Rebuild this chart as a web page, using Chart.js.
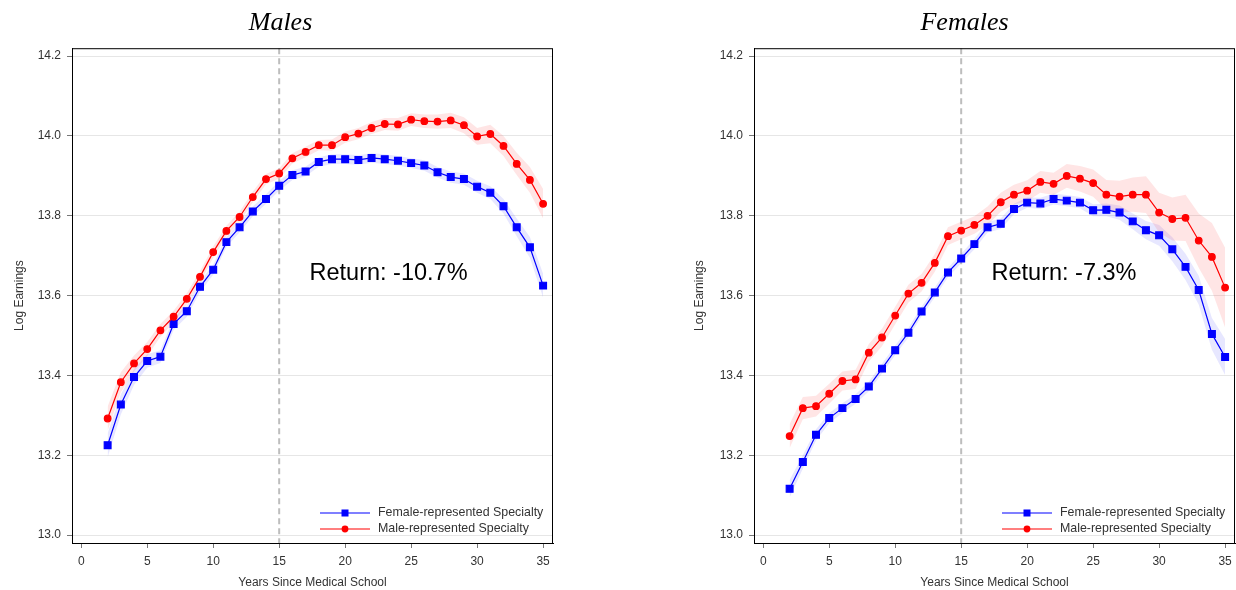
<!DOCTYPE html>
<html>
<head>
<meta charset="utf-8">
<script src="https://cdn.jsdelivr.net/npm/chart.js@4/dist/chart.umd.min.js"></script>
<style>
  body { margin: 0; background: #fff; width: 1236px; height: 590px; overflow: hidden; position: relative; }
  .panel { position: absolute; top: 0; }
</style>
</head>
<body>
<div class="panel" style="left:0px"><canvas id="males" width="560" height="590"></canvas></div>
<div class="panel" style="left:680px"><canvas id="females" width="561" height="590"></canvas></div>
<script>
// years since medical school
const years = [2, 3, 4, 5, 6, 7, 8, 9, 10, 11, 12, 13, 14, 15, 16, 17, 18, 19, 20,
  21, 22, 23, 24, 25, 26, 27, 28, 29, 30, 31, 32, 33, 34, 35];
const xTicks = [0, 5, 10, 15, 20, 25, 30, 35];
const yTicks = [13.0, 13.2, 13.4, 13.6, 13.8, 14.0, 14.2];

// Males panel
const malesFemaleRep = [13.225, 13.327, 13.396, 13.436, 13.447, 13.529, 13.561, 13.622, 13.665, 13.734,
  13.771, 13.811, 13.842, 13.875, 13.902, 13.911, 13.935, 13.942, 13.942, 13.940,
  13.945, 13.942, 13.938, 13.932, 13.926, 13.909, 13.897, 13.892, 13.873, 13.858,
  13.824, 13.771, 13.721, 13.625];
const malesMaleRep = [13.292, 13.383, 13.430, 13.466, 13.513, 13.547, 13.592, 13.647, 13.709, 13.762,
  13.797, 13.847, 13.892, 13.906, 13.944, 13.960, 13.977, 13.977, 13.997, 14.006,
  14.020, 14.030, 14.029, 14.041, 14.037, 14.036, 14.039, 14.027, 13.999, 14.005,
  13.975, 13.930, 13.890, 13.830];
// half width of the confidence band
const malesFemaleCI = [0.030, 0.025, 0.020, 0.017, 0.016, 0.015, 0.014, 0.013, 0.013, 0.012,
  0.012, 0.012, 0.012, 0.012, 0.012, 0.012, 0.012, 0.012, 0.012, 0.012,
  0.012, 0.012, 0.012, 0.012, 0.013, 0.013, 0.014, 0.014, 0.015, 0.016,
  0.018, 0.022, 0.026, 0.030];
const malesMaleCI = [0.030, 0.025, 0.020, 0.018, 0.016, 0.015, 0.014, 0.014, 0.014, 0.013,
  0.013, 0.013, 0.013, 0.013, 0.013, 0.013, 0.013, 0.014, 0.014, 0.014,
  0.015, 0.015, 0.016, 0.016, 0.017, 0.018, 0.019, 0.020, 0.021, 0.023,
  0.025, 0.028, 0.032, 0.037];

// Females panel
const femalesFemaleRep = [13.116, 13.183, 13.251, 13.293, 13.318, 13.341, 13.372, 13.417, 13.463, 13.507,
  13.560, 13.608, 13.658, 13.693, 13.729, 13.771, 13.780, 13.817, 13.833, 13.831,
  13.842, 13.838, 13.833, 13.814, 13.815, 13.808, 13.786, 13.764, 13.751, 13.716,
  13.672, 13.614, 13.504, 13.446];
const femalesMaleRep = [13.248, 13.318, 13.323, 13.354, 13.386, 13.390, 13.457, 13.495, 13.550, 13.605,
  13.632, 13.682, 13.749, 13.763, 13.777, 13.800, 13.834, 13.853, 13.863, 13.885,
  13.880, 13.900, 13.893, 13.882, 13.853, 13.848, 13.853, 13.853, 13.808, 13.792,
  13.795, 13.738, 13.697, 13.620];
const femalesFemaleCI = [0.022, 0.017, 0.014, 0.013, 0.012, 0.012, 0.012, 0.012, 0.012, 0.012,
  0.012, 0.012, 0.012, 0.012, 0.013, 0.013, 0.013, 0.013, 0.013, 0.014,
  0.014, 0.014, 0.014, 0.015, 0.016, 0.018, 0.020, 0.023, 0.026, 0.030,
  0.033, 0.036, 0.040, 0.045];
const femalesMaleCI = [0.030, 0.028, 0.026, 0.025, 0.024, 0.024, 0.022, 0.022, 0.022, 0.022,
  0.022, 0.022, 0.022, 0.022, 0.022, 0.023, 0.024, 0.025, 0.026, 0.027,
  0.028, 0.030, 0.032, 0.034, 0.037, 0.040, 0.043, 0.046, 0.050, 0.054,
  0.058, 0.068, 0.085, 0.100];

const seriesNames = ['Female-represented Specialty', 'Male-represented Specialty'];
const BLUE = '#0000ff';
const RED = '#ff0000';
const FONT = "'Liberation Sans', Arial, sans-serif";

const toPoints = (vals, ci, sign) => years.map((x, i) => ({ x: x, y: vals[i] + sign * (ci ? ci[i] : 0) }));

const decorPlugin = {
  id: 'decor',
  beforeDatasetsDraw(chart, args, opts) {
    const { ctx, chartArea } = chart;
    const px = chart.scales.x.getPixelForValue(opts.refYear);
    ctx.save();
    ctx.strokeStyle = '#bdbdbd';
    ctx.lineWidth = 2;
    ctx.setLineDash([6, 4]);
    ctx.beginPath();
    ctx.moveTo(px, chartArea.top);
    ctx.lineTo(px, chartArea.bottom);
    ctx.stroke();
    ctx.restore();
  },
  afterDraw(chart, args, opts) {
    const { ctx, chartArea } = chart;
    ctx.save();
    // frame
    ctx.strokeStyle = '#000';
    ctx.lineWidth = 1;
    ctx.strokeRect(chartArea.left + 0.5, chartArea.top + 0.5,
      chartArea.right - chartArea.left - 1, chartArea.bottom - chartArea.top);

    // return annotation
    ctx.fillStyle = '#000';
    ctx.font = '23.5px ' + FONT;
    ctx.textAlign = 'left';
    ctx.textBaseline = 'middle';
    ctx.fillText(opts.returnText,
      chart.scales.x.getPixelForValue(opts.textAt[0]),
      chart.scales.y.getPixelForValue(opts.textAt[1]));

    // legend
    const x0 = chartArea.right - 233, x1 = chartArea.right - 183;
    const rows = [chartArea.bottom - 30, chartArea.bottom - 14];
    const cols = [BLUE, RED];
    rows.forEach((y, i) => {
      ctx.strokeStyle = cols[i];
      ctx.fillStyle = cols[i];
      ctx.lineWidth = 1.2;
      ctx.beginPath();
      ctx.moveTo(x0, y);
      ctx.lineTo(x1, y);
      ctx.stroke();
      const mx = (x0 + x1) / 2;
      if (i === 0) {
        ctx.fillRect(mx - 3.5, y - 3.5, 7, 7);
      } else {
        ctx.beginPath();
        ctx.arc(mx, y, 3.4, 0, Math.PI * 2);
        ctx.fill();
      }
      ctx.fillStyle = '#333';
      ctx.font = '12.4px ' + FONT;
      ctx.textBaseline = 'middle';
      ctx.fillText(seriesNames[i], chartArea.right - 175, y);
    });
    ctx.restore();
  }
};

function makePanel(id, title, femaleVals, femaleCI, maleVals, maleCI, returnText, leftPad, yWidth, rightPad) {
  return new Chart(document.getElementById(id), {
    type: 'line',
    data: {
      datasets: [
        { data: toPoints(femaleVals, null, 0), borderColor: BLUE, backgroundColor: BLUE,
          borderWidth: 1.2, pointStyle: 'rect', pointRadius: 4.8, fill: false, order: 1 },
        { data: toPoints(maleVals, null, 0), borderColor: RED, backgroundColor: RED,
          borderWidth: 1.2, pointStyle: 'circle', pointRadius: 3.3, fill: false, order: 0 },
        { data: toPoints(femaleVals, femaleCI, 1), borderWidth: 0, borderColor: 'transparent',
          pointRadius: 0, fill: '+1', backgroundColor: 'rgba(40,40,255,0.11)', order: 6 },
        { data: toPoints(femaleVals, femaleCI, -1), borderWidth: 0, borderColor: 'transparent',
          pointRadius: 0, fill: false, order: 7 },
        { data: toPoints(maleVals, maleCI, 1), borderWidth: 0, borderColor: 'transparent',
          pointRadius: 0, fill: '+1', backgroundColor: 'rgba(255,40,40,0.12)', order: 4 },
        { data: toPoints(maleVals, maleCI, -1), borderWidth: 0, borderColor: 'transparent',
          pointRadius: 0, fill: false, order: 5 }
      ]
    },
    options: {
      responsive: false,
      animation: false,
      layout: { padding: { left: leftPad, right: rightPad, top: 0, bottom: 0 } },
      plugins: {
        legend: { display: false },
        tooltip: { enabled: false },
        title: {
          display: true,
          text: title,
          color: '#000',
          font: { family: "'Liberation Serif', 'Times New Roman', serif", size: 26, style: 'italic', weight: 'normal' },
          padding: { top: 8, bottom: 9 }
        },
        decor: { refYear: 15, returnText: returnText, textAt: [17.3, 13.655] }
      },
      scales: {
        x: {
          type: 'linear',
          min: -0.7,
          max: 35.75,
          afterBuildTicks: (s) => { s.ticks = xTicks.map(v => ({ value: v })); },
          afterFit: (s) => { s.height = 47; },
          grid: { drawOnChartArea: false, tickColor: '#777', tickLength: 5 },
          border: { color: '#000' },
          ticks: { color: '#333', font: { family: FONT, size: 12 }, padding: 6, maxRotation: 0 },
          title: { display: true, text: 'Years Since Medical School', color: '#333',
            font: { family: FONT, size: 12 }, padding: { top: 4, bottom: 0 } }
        },
        y: {
          min: 12.98,
          max: 14.22,
          afterBuildTicks: (s) => { s.ticks = yTicks.map(v => ({ value: v })); },
          afterFit: (s) => { s.width = yWidth; },
          grid: { color: '#e6e6e6', tickColor: '#777', tickLength: 5 },
          border: { color: '#000' },
          ticks: { color: '#333', font: { family: FONT, size: 12 }, padding: 6,
            callback: (v) => Number(v).toFixed(1) },
          title: { display: true, text: 'Log Earnings', color: '#333',
            font: { family: FONT, size: 12 }, padding: { top: 4, bottom: 4 } }
        }
      }
    },
    plugins: [decorPlugin]
  });
}

makePanel('males', 'Males', malesFemaleRep, malesFemaleCI, malesMaleRep, malesMaleCI,
  'Return: -10.7%', 8, 64, 7);
makePanel('females', 'Females', femalesFemaleRep, femalesFemaleCI, femalesMaleRep, femalesMaleCI,
  'Return: -7.3%', 8, 66, 0);
</script>
</body>
</html>
